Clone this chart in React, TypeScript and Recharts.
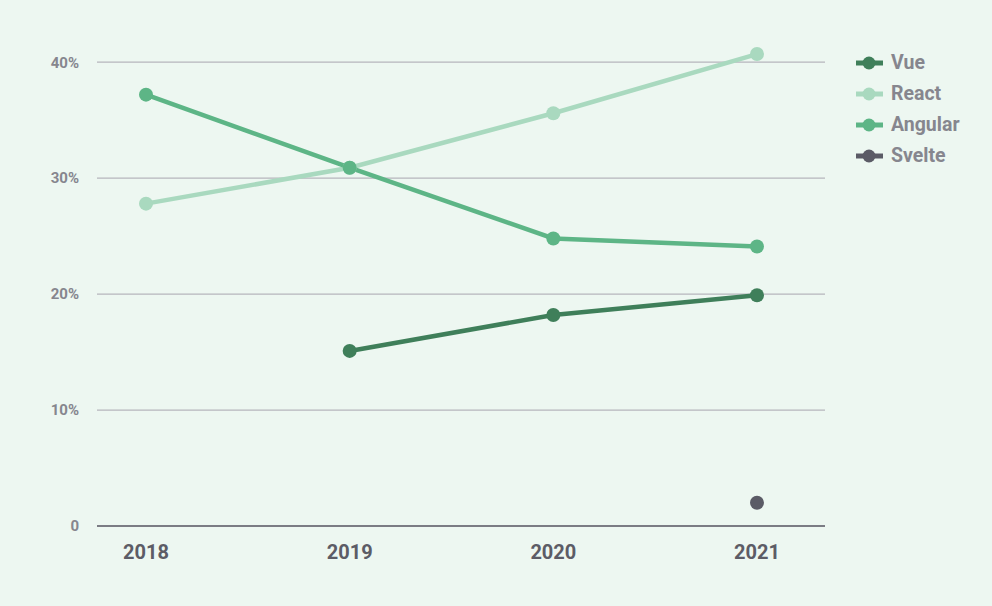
import { LineChart, Line, XAxis, YAxis, CartesianGrid } from 'recharts'

const years = ['2018', '2019', '2020', '2021']
const vue = [null, 15.1, 18.2, 19.9]
const react = [27.8, 30.9, 35.6, 40.7]
const angular = [37.2, 30.9, 24.8, 24.1]
const svelte = [null, null, null, 2.0]
const yTicks = [0, 10, 20, 30, 40]

const series = [
  { key: 'Vue', values: vue, color: '#3f7f5a' },
  { key: 'React', values: react, color: '#a9d9bf' },
  { key: 'Angular', values: angular, color: '#5db586' },
  { key: 'Svelte', values: svelte, color: '#5b5b66' },
]

const data = years.map((year, i) => {
  const row: Record<string, string | number | null> = { year }
  series.forEach((s) => {
    row[s.key] = s.values[i]
  })
  return row
})

const FONT = 'Roboto, "Noto Sans", sans-serif'

function ChartLegend() {
  return (
    <div style={{ position: 'absolute', left: 856, top: 47, fontFamily: FONT }}>
      {series.map((s) => (
        <div key={s.key} style={{ display: 'flex', alignItems: 'center', height: 31 }}>
          <svg width={30} height={16} style={{ marginRight: 5 }}>
            <line x1={0} y1={8} x2={27} y2={8} stroke={s.color} strokeWidth={5} />
            <circle cx={13} cy={8} r={6.5} fill={s.color} />
          </svg>
          <span style={{ fontSize: 19.5, fontWeight: 700, color: '#86868e' }}>{s.key}</span>
        </div>
      ))}
    </div>
  )
}

export default function App() {
  return (
    <div style={{ position: 'relative', width: 992, height: 606, background: '#edf7f1' }}>
      <style>{'body{margin:0}'}</style>
      <LineChart
        width={992}
        height={606}
        data={data}
        margin={{ top: 39, right: 167, bottom: 50, left: 0 }}
      >
        <CartesianGrid vertical={false} horizontalValues={[10, 20, 30, 40]} stroke="#b6b6bc" strokeWidth={1.2} />
        <XAxis
          dataKey="year"
          axisLine={{ stroke: '#7b7c84', strokeWidth: 2 }}
          tickLine={false}
          tickMargin={13}
          height={30}
          padding={{ left: 49, right: 68 }}
          tick={{ fill: '#5c5c66', fontSize: 20, fontWeight: 700, fontFamily: FONT }}
        />
        <YAxis
          width={97}
          domain={[0, 42]}
          ticks={yTicks}
          axisLine={false}
          tickLine={false}
          tickMargin={12}
          tickFormatter={(v: number) => (v === 0 ? '0' : `${v}%`)}
          tick={{ fill: '#86868e', fontSize: 15, fontWeight: 700, fontFamily: FONT }}
        />
        {series.map((s) => (
          <Line
            key={s.key}
            dataKey={s.key}
            stroke={s.color}
            strokeWidth={4.5}
            dot={{ r: 7, fill: s.color, stroke: 'none' }}
            activeDot={false}
            isAnimationActive={false}
          />
        ))}
      </LineChart>
      <ChartLegend />
    </div>
  )
}
